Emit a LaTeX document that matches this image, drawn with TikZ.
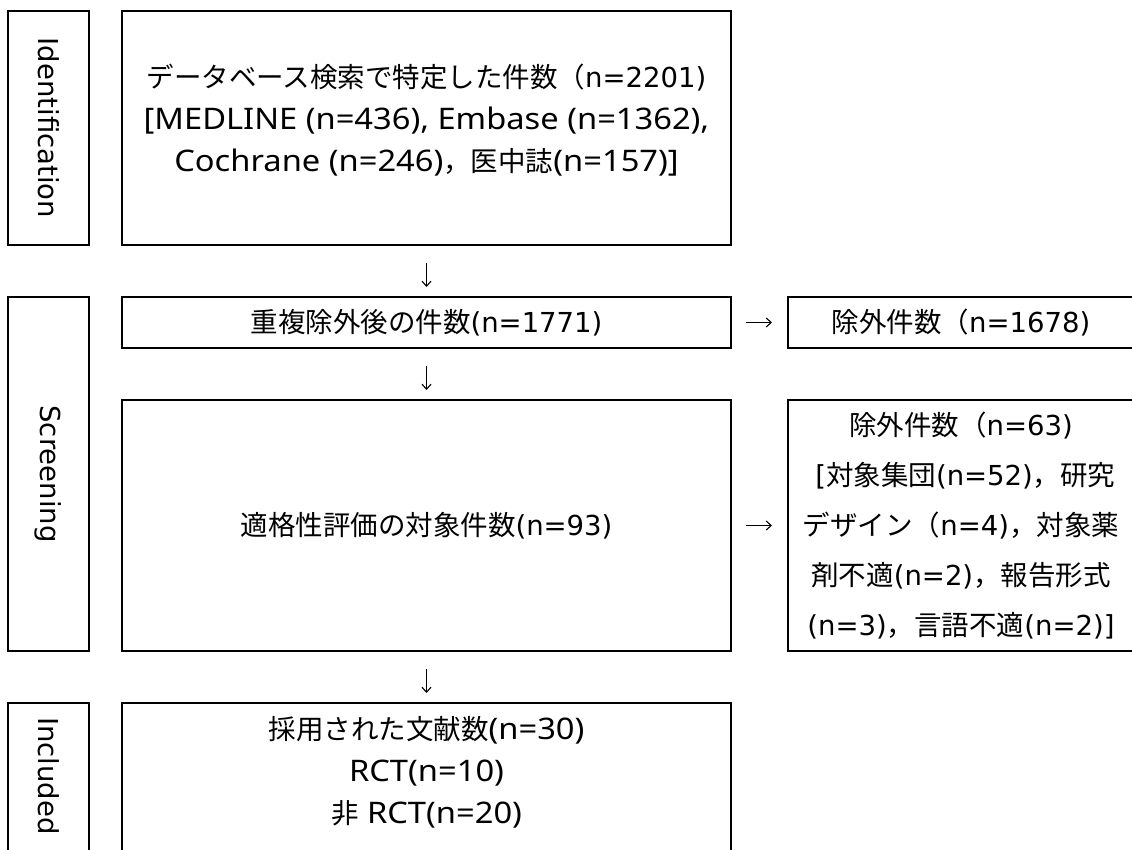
\documentclass[tikz,border=0pt]{standalone}
\usepackage{fontspec}
\setmainfont{DejaVu Sans}
\newfontfamily\jp{Noto Sans CJK JP}
\newfontfamily\ns[Scale=1.08,FakeStretch=1.1]{Noto Sans}
\usetikzlibrary{arrows.meta}
\begin{document}
\begin{tikzpicture}[x=1pt,y=-1pt,
  frame/.style={draw, line width=2pt, inner sep=0pt, outer sep=0pt, align=center,
    font=\fontsize{27.5}{42}\selectfont},
  txt/.style={inner sep=0pt, outer sep=0pt, align=center, font=\fontsize{27.5}{42}\selectfont},
  arr/.style={line width=1.1pt, -{Straight Barb[length=5pt,width=9pt]}},
  down/.style={arr, shorten <=18pt, shorten >=10pt},
  right/.style={arr, shorten <=15pt, shorten >=16pt}]
\useasboundingbox (0,0) rectangle (1132,849);
\clip (0,0) rectangle (1132,849);
% stage label boxes
\node[frame, minimum width=81pt, minimum height=234pt] (lab1) at (48.5,128) {};
\node[txt, rotate=-90] (lab1t) at (48.5,128) {Identification};
\node[frame, minimum width=81pt, minimum height=354pt] (lab2) at (48.5,474) {};
\node[txt, rotate=-90] (lab2t) at (48.5,474) {Screening};
\node[frame, minimum width=81pt, minimum height=160pt] (lab3) at (48.5,783) {};
\node[txt, rotate=-90] (lab3t) at (48.5,776) {Included};
% main boxes
\node[frame, minimum width=609pt, minimum height=234pt] (b1) at (426.5,128) {};
\node[txt] (b1t) at (426.5,120) {{\jp データベース検索で特定した件数（}n=2201)\\
  {\ns [MEDLINE (n=436), Embase (n=1362),}\\
  {\ns Cochrane (n=246)}{\jp ，医中誌}{\ns (n=157)]}};
\node[frame, minimum width=609pt, minimum height=51pt] (b2) at (426.5,322.5)
  {{\jp 重複除外後の件数}(n=1771)};
\node[frame, minimum width=609pt, minimum height=251pt] (b3) at (426.5,525.5)
  {{\jp 適格性評価の対象件数}(n=93)};
\node[frame, minimum width=609pt, minimum height=160pt] (b4) at (426.5,783) {};
\node[txt] (b4t) at (426.5,772.5) {{\jp 採用された文献数}{\ns (n=30)}\\
  {\ns RCT(n=10)}\\
  {\jp 非}{\ns\ RCT(n=20)}};
% exclusion boxes
\node[frame, minimum width=346pt, minimum height=51pt] (ex1) at (961,322.5)
  {{\jp 除外件数（}n=1678)};
\node[frame, minimum width=346pt, minimum height=251pt,
  font=\fontsize{27.5}{50}\selectfont] (ex2) at (961,525.5)
  {{\jp 除外件数（}n=63)\\
   \ [{\jp 対象集団}(n=52){\jp ，研究}\\
   {\jp デザイン（}n=4){\jp ，対象薬}\\
   {\jp 剤不適}(n=2){\jp ，報告形式}\\
   (n=3){\jp ，言語不適}(n=2)]};
% connectors
\draw[down] (b1) -- (b2);
\draw[down] (b2) -- (b3);
\draw[down] (b3) -- (b4);
\draw[right] (b2) -- (ex1);
\draw[right] (b3) -- (ex2);
\end{tikzpicture}
\end{document}
